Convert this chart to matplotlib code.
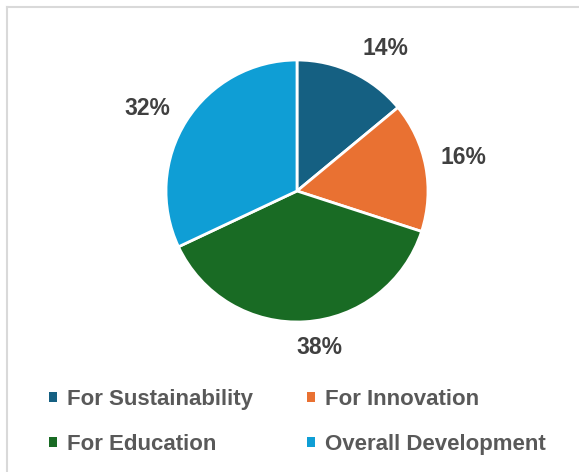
import matplotlib
matplotlib.use("Agg")
import matplotlib.pyplot as plt
from matplotlib.lines import Line2D
import numpy as np

categories = ["For Sustainability", "For Innovation", "For Education", "Overall Development"]
values = [14, 16, 38, 32]
colors = ["#156082", "#E97132", "#196B24", "#0F9ED5"]
# label placement (radius multiple, angular nudge in degrees) - style only
label_dist = [1.28, 1.30, 1.205, 1.305]
label_nudge = [-6.6, 0.7, 4.6, 3.7]

plt.rcParams['font.family'] = ['Liberation Sans', 'DejaVu Sans']

W, H = 579, 472
fig = plt.figure(figsize=(W / 100, H / 100), dpi=100)
fig.patch.set_facecolor("white")

cx, cy, r = 297, 191, 131
ax = fig.add_axes([(cx - r) / W, (H - cy - r) / H, 2 * r / W, 2 * r / H])
wedges, _ = ax.pie(values, colors=colors, startangle=90, counterclock=False,
                   wedgeprops=dict(edgecolor="white", linewidth=2.0))
ax.set_xlim(-1, 1)
ax.set_ylim(-1, 1)
ax.set_aspect("auto")
ax.axis("off")

total = sum(values)
for w, v, d, n in zip(wedges, values, label_dist, label_nudge):
    ang = np.deg2rad((w.theta1 + w.theta2) / 2 + n)
    ax.text(d * np.cos(ang), d * np.sin(ang), f"{round(100 * v / total)}%",
            ha="center", va="center", fontsize=16.5, fontweight="bold",
            color="#404040", clip_on=False)

# frame (top and left border visible)
fig.add_artist(Line2D([7 / W, 7 / W], [0, 1 - 7 / H], transform=fig.transFigure,
                      color="#D9D9D9", lw=1.5))
fig.add_artist(Line2D([7 / W, 1], [1 - 7 / H, 1 - 7 / H], transform=fig.transFigure,
                      color="#D9D9D9", lw=1.5))

order = [0, 2, 1, 3]
leg = fig.legend([wedges[i] for i in order], [categories[i] for i in order],
                 ncol=2, loc="upper left", bbox_to_anchor=(49 / W, 1 - 389 / H),
                 frameon=False, handlelength=0.36, handleheight=0.36,
                 handletextpad=0.45, columnspacing=2.45, labelspacing=1.08,
                 borderaxespad=0, borderpad=0,
                 prop=dict(size=16, weight="bold"))
for t in leg.get_texts():
    t.set_color("#595959")
for h in leg.legend_handles:
    h.set_edgecolor("none")

fig.savefig("out.png", dpi=100)
